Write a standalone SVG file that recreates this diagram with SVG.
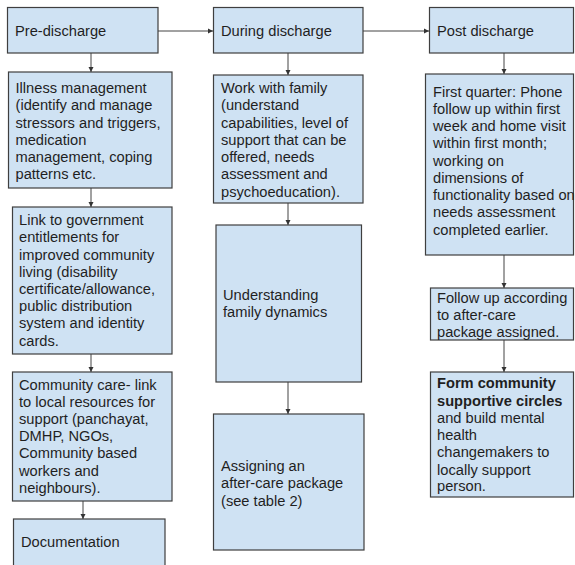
<svg xmlns="http://www.w3.org/2000/svg" width="575" height="565" viewBox="0 0 575 565">
  <defs>
    <marker id="head" markerUnits="userSpaceOnUse" markerWidth="6" markerHeight="6" refX="5" refY="3" orient="auto">
      <path d="M0,0.5 L5,3 L0,5.5 Z" fill="#333"/>
    </marker>
    <style>
      .box { fill: #cfe2f3; stroke: #3f3f3f; stroke-width: 1.2; }
      .t { font-family: "Liberation Sans", Arial, sans-serif; font-size: 14.67px; fill: #1f1f1f; }
      .b { font-weight: bold; }
      .edge { stroke: #444; stroke-width: 1; fill: none; marker-end: url(#head); }
    </style>
  </defs>
  <rect width="575" height="565" fill="#ffffff"/>

  <!-- connectors -->
  <g id="connectors">
    <line class="edge" x1="158" y1="31" x2="213" y2="31"/>
    <line class="edge" x1="363" y1="31" x2="429" y2="31"/>
    <line class="edge" x1="91" y1="53" x2="91" y2="72"/>
    <line class="edge" x1="91" y1="188" x2="91" y2="207"/>
    <line class="edge" x1="91" y1="354" x2="91" y2="372"/>
    <line class="edge" x1="83" y1="501" x2="83" y2="519"/>
    <line class="edge" x1="288" y1="53" x2="288" y2="75"/>
    <line class="edge" x1="288" y1="203" x2="288" y2="225"/>
    <line class="edge" x1="288" y1="382" x2="288" y2="414"/>
    <line class="edge" x1="504" y1="53" x2="504" y2="74"/>
    <line class="edge" x1="504" y1="255" x2="504" y2="288"/>
    <line class="edge" x1="504" y1="340" x2="504" y2="372"/>
  </g>

  <!-- left column -->
  <g id="pre-discharge">
    <rect class="box" x="7.5" y="7.5" width="150.5" height="45.5"/>
    <text class="t" x="15" y="36">Pre-discharge</text>
  </g>
  <g id="illness-management">
    <rect class="box" x="8.5" y="72" width="163.5" height="116"/>
    <text class="t" x="15.5" y="92.7">Illness management</text>
    <text class="t" x="15.5" y="110">(identify and manage</text>
    <text class="t" x="15.5" y="127.5">stressors and triggers,</text>
    <text class="t" x="15.5" y="144.5">medication</text>
    <text class="t" x="15.5" y="161.7">management, coping</text>
    <text class="t" x="15.5" y="179">patterns etc.</text>
  </g>
  <g id="entitlements">
    <rect class="box" x="12.5" y="207" width="159.5" height="147"/>
    <text class="t" x="19" y="225">Link to government</text>
    <text class="t" x="19" y="242.3">entitlements for</text>
    <text class="t" x="19" y="259.5">improved community</text>
    <text class="t" x="19" y="276.8">living (disability</text>
    <text class="t" x="19" y="294">certificate/allowance,</text>
    <text class="t" x="19" y="311.2">public distribution</text>
    <text class="t" x="19" y="328.4">system and identity</text>
    <text class="t" x="19" y="345.7">cards.</text>
  </g>
  <g id="community-care">
    <rect class="box" x="12.5" y="372" width="159.5" height="129"/>
    <text class="t" x="19" y="390">Community care- link</text>
    <text class="t" x="19" y="407">to local resources for</text>
    <text class="t" x="19" y="424">support (panchayat,</text>
    <text class="t" x="19" y="441.2">DMHP, NGOs,</text>
    <text class="t" x="19" y="458.4">Community based</text>
    <text class="t" x="19" y="475.6">workers and</text>
    <text class="t" x="19" y="492.5">neighbours).</text>
  </g>
  <g id="documentation">
    <rect class="box" x="13.5" y="519" width="151.5" height="60"/>
    <text class="t" x="21" y="547">Documentation</text>
  </g>

  <!-- middle column -->
  <g id="during-discharge">
    <rect class="box" x="213.5" y="7.5" width="149.5" height="45.5"/>
    <text class="t" x="221" y="36">During discharge</text>
  </g>
  <g id="work-with-family">
    <rect class="box" x="213.5" y="75" width="149.5" height="128"/>
    <text class="t" x="221" y="92.7">Work with family</text>
    <text class="t" x="221" y="110">(understand</text>
    <text class="t" x="221" y="127.5">capabilities, level of</text>
    <text class="t" x="221" y="145">support that can be</text>
    <text class="t" x="221" y="162.3">offered, needs</text>
    <text class="t" x="221" y="179.3">assessment and</text>
    <text class="t" x="221" y="196.6">psychoeducation).</text>
  </g>
  <g id="family-dynamics">
    <rect class="box" x="216" y="225" width="145.5" height="157"/>
    <text class="t" x="223" y="300">Understanding</text>
    <text class="t" x="223" y="317.3">family dynamics</text>
  </g>
  <g id="after-care-package">
    <rect class="box" x="213.5" y="414" width="150.5" height="136"/>
    <text class="t" x="221" y="471">Assigning an</text>
    <text class="t" x="221" y="488.3">after-care package</text>
    <text class="t" x="221" y="505.5">(see table 2)</text>
  </g>

  <!-- right column -->
  <g id="post-discharge">
    <rect class="box" x="429.5" y="7.5" width="144" height="45.5"/>
    <text class="t" x="437" y="36">Post discharge</text>
  </g>
  <g id="first-quarter">
    <rect class="box" x="425.5" y="74" width="148" height="181"/>
    <text class="t" x="433" y="96.7">First quarter: Phone</text>
    <text class="t" x="433" y="114">follow up within first</text>
    <text class="t" x="433" y="131.2">week and home visit</text>
    <text class="t" x="433" y="148.4">within first month;</text>
    <text class="t" x="433" y="165.6">working on</text>
    <text class="t" x="433" y="182.8">dimensions of</text>
    <text class="t" x="433" y="200">functionality based on</text>
    <text class="t" x="433" y="217.3">needs assessment</text>
    <text class="t" x="433" y="234.5">completed earlier.</text>
  </g>
  <g id="follow-up">
    <rect class="box" x="430.5" y="288" width="143" height="52"/>
    <text class="t" x="437" y="302.7">Follow up according</text>
    <text class="t" x="437" y="319.5">to after-care</text>
    <text class="t" x="437" y="336.7">package assigned.</text>
  </g>
  <g id="supportive-circles">
    <rect class="box" x="430.5" y="372" width="143" height="125"/>
    <text class="t b" x="437" y="388.3">Form community</text>
    <text class="t b" x="437" y="405.6">supportive circles</text>
    <text class="t" x="437" y="422.8">and build mental</text>
    <text class="t" x="437" y="440">health</text>
    <text class="t" x="437" y="457.3">changemakers to</text>
    <text class="t" x="437" y="474.5">locally support</text>
    <text class="t" x="437" y="491.3">person.</text>
  </g>
</svg>
